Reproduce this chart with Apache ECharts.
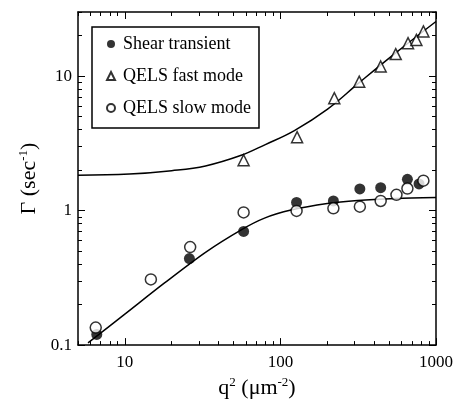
<!DOCTYPE html>
<html>
<head>
<meta charset="utf-8">
<script src="https://cdn.jsdelivr.net/npm/echarts@6/dist/echarts.min.js"></script>
<style>
  html, body { margin: 0; padding: 0; background: #fff; }
  #chart { width: 456px; height: 404px; }
</style>
</head>
<body>
<div id="chart"></div>
<script>
// values, [q^2, Gamma]
const shearTransient = [[6.6, 0.12], [26, 0.44], [58, 0.70], [127, 1.15], [219, 1.18], [324, 1.45], [441, 1.48], [655, 1.71], [778, 1.58]];
const qelsFast = [[58, 2.37], [128, 3.52], [222, 6.86], [321, 9.1], [441, 11.8], [551, 14.6], [661, 17.6], [748, 18.6], [830, 21.5]];
const qelsSlow = [[6.5, 0.135], [14.7, 0.308], [26.3, 0.536], [58, 0.97], [127, 0.995], [219, 1.04], [324, 1.07], [441, 1.18], [557, 1.31], [655, 1.46], [830, 1.67]];
// fitted curves, points
const fitFast = [[5, 1.83], [10.7, 1.87], [20, 1.98], [33, 2.15], [56, 2.58], [80, 3.1], [123, 3.94], [201, 5.69], [321, 8.95], [551, 14.9], [1000, 25.5]];
const fitSlow = [[5.8, 0.104], [10, 0.17], [18, 0.29], [33, 0.49], [56, 0.72], [79, 0.88], [117, 1.01], [200, 1.13], [313, 1.19], [550, 1.23], [1000, 1.25]];

// tick values
const xMajor = [10, 100, 1000];
const xMinor = [5, 6, 7, 8, 9, 20, 30, 40, 50, 60, 70, 80, 90, 200, 300, 400, 500, 600, 700, 800, 900];
const yMajor = [0.1, 1, 10];
const yMinor = [0.2, 0.3, 0.4, 0.5, 0.6, 0.7, 0.8, 0.9, 2, 3, 4, 5, 6, 7, 8, 9, 20, 30];

const X_MIN = 5, X_MAX = 1000, Y_MIN = 0.1, Y_MAX = 30;
const font = "Liberation Serif";
const black = "#000";

const chart = echarts.init(document.getElementById("chart"));

// tick-only axes, in log10 space, to put inside ticks on all four sides
function tickAxis(position, ticks, len, showLine, lo, hi) {
  return {
    type: "value", min: Math.log10(lo), max: Math.log10(hi), position: position,
    axisLine: { show: showLine, onZero: false, lineStyle: { color: black, width: 1.5 } },
    axisTick: { show: true, inside: true, length: len, customValues: ticks.map(Math.log10), lineStyle: { color: black, width: 1 } },
    axisLabel: { show: false },
    splitLine: { show: false },
  };
}

const supRich = {
  n: { fontFamily: font, fontSize: 22, color: black },
  s: { fontFamily: font, fontSize: 13, color: black, verticalAlign: "bottom", padding: [0, 0, 11, 0] },
};

const xAxes = [
  {
    type: "log", logBase: 10, min: X_MIN, max: X_MAX, position: "bottom",
    axisLine: { show: true, onZero: false, lineStyle: { color: black, width: 1.5 } },
    axisTick: { show: false },
    axisLabel: {
      showMinLabel: false, margin: 9, color: black, fontFamily: font, fontSize: 17,
      formatter: (v) => (xMajor.indexOf(v) >= 0 ? String(v) : ""),
    },
    splitLine: { show: false },
    name: "{n|q}{s|2}{n| (\u03bcm}{s|-2}{n|)}",
    nameLocation: "middle", nameGap: 25,
    nameTextStyle: { rich: supRich },
  },
  tickAxis("bottom", xMajor, 7, false, X_MIN, X_MAX),
  tickAxis("bottom", xMinor, 4, false, X_MIN, X_MAX),
  tickAxis("top", xMajor, 7, true, X_MIN, X_MAX),
  tickAxis("top", xMinor, 4, false, X_MIN, X_MAX),
];

const yAxes = [
  {
    type: "log", logBase: 10, min: Y_MIN, max: Y_MAX, position: "left",
    axisLine: { show: true, onZero: false, lineStyle: { color: black, width: 1.5 } },
    axisTick: { show: false },
    axisLabel: {
      showMaxLabel: false, margin: 6, color: black, fontFamily: font, fontSize: 17,
      formatter: (v) => (yMajor.indexOf(v) >= 0 ? String(v) : ""),
    },
    splitLine: { show: false },
    name: "{n|\u0393 (sec}{s|-1}{n|)}",
    nameLocation: "middle", nameRotate: 90, nameGap: 36,
    nameTextStyle: { rich: supRich },
  },
  tickAxis("left", yMajor, 7, false, Y_MIN, Y_MAX),
  tickAxis("left", yMinor, 4, false, Y_MIN, Y_MAX),
  tickAxis("right", yMajor, 7, true, Y_MIN, Y_MAX),
  tickAxis("right", yMinor, 4, false, Y_MIN, Y_MAX),
];

const option = {
  backgroundColor: "#fff",
  animation: false,
  grid: { left: 78, right: 18, top: 12, bottom: 56 },
  legend: {
    orient: "vertical",
    left: 92, top: 27,
    padding: [8, 8, 11, 14],
    itemGap: 14,
    itemWidth: 8, itemHeight: 8,
    borderColor: black, borderWidth: 1.5,
    backgroundColor: "#fff",
    textStyle: { fontFamily: font, fontSize: 18, color: black, padding: [0, 0, 0, 3] },
    data: ["Shear transient", "QELS fast mode", "QELS slow mode"],
  },
  xAxis: xAxes,
  yAxis: yAxes,
  series: [
    {
      name: "fast fit", type: "line", data: fitFast, smooth: 0.4, symbol: "none",
      lineStyle: { color: black, width: 1.5 }, z: 2,
    },
    {
      name: "slow fit", type: "line", data: fitSlow, smooth: 0.3, symbol: "none",
      lineStyle: { color: black, width: 1.5 }, z: 2,
    },
    {
      name: "Shear transient", type: "scatter", data: shearTransient, symbol: "circle", symbolSize: 11,
      itemStyle: { color: black }, z: 3,
    },
    {
      name: "QELS fast mode", type: "scatter", data: qelsFast, symbol: "triangle", symbolSize: 11,
      itemStyle: { color: "#fff", borderColor: black, borderWidth: 1.5 }, z: 3,
    },
    {
      name: "QELS slow mode", type: "scatter", data: qelsSlow, symbol: "circle", symbolSize: 11,
      itemStyle: { color: "#fff", borderColor: black, borderWidth: 1.5 }, z: 3,
    },
  ],
};

chart.setOption(option);

window.addEventListener("resize", () => chart.resize());
</script>
</body>
</html>
